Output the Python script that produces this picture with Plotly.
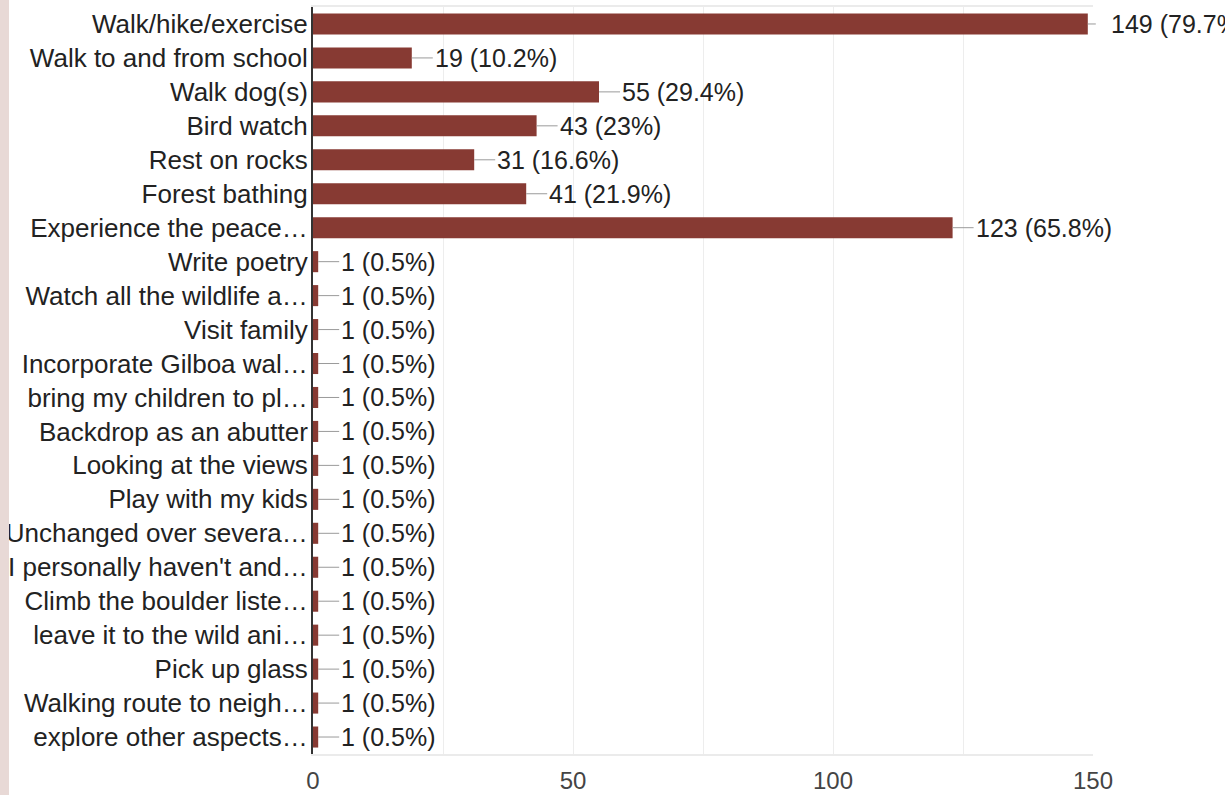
import plotly.graph_objects as go

categories = [
    "Walk/hike/exercise", "Walk to and from school", "Walk dog(s)", "Bird watch",
    "Rest on rocks", "Forest bathing", "Experience the peace…", "Write poetry",
    "Watch all the wildlife a…", "Visit family", "Incorporate Gilboa wal…",
    "bring my children to pl…", "Backdrop as an abutter", "Looking at the views",
    "Play with my kids", "Unchanged over severa…", "I personally haven't and…",
    "Climb the boulder liste…", "leave it to the wild ani…", "Pick up glass",
    "Walking route to neigh…", "explore other aspects…",
]
counts = [149, 19, 55, 43, 31, 41, 123] + [1] * 15
percents = ["79.7%", "10.2%", "29.4%", "23%", "16.6%", "21.9%", "65.8%"] + ["0.5%"] * 15

BAR = "#873a33"
FONT = "Liberation Sans, Arial, sans-serif"

fig = go.Figure(go.Bar(
    x=counts, y=categories, orientation="h",
    marker=dict(color=BAR, line=dict(width=0)),
    hoverinfo="skip",
))

for i, (c, cat, p) in enumerate(zip(counts, categories, percents)):
    fig.add_annotation(
        x=c, y=cat, xref="x", yref="y",
        text=f"{c} ({p})", showarrow=True, arrowhead=0, arrowwidth=1,
        arrowcolor="#9a9a9a", ax=21, ay=0, axref="pixel", ayref="pixel",
        xanchor="left", yanchor="middle",
        startstandoff=13 if i == 0 else 0,
        font=dict(family=FONT, size=25, color="#222222"),
    )

# left page strip
fig.add_shape(type="rect", xref="paper", yref="paper",
              x0=-313 / 780, x1=-304 / 780, y0=-41 / 747, y1=754 / 747,
              fillcolor="#e8d9d6", line=dict(width=0), layer="above")

fig.update_layout(
    width=1225, height=795,
    margin=dict(l=313, r=132, t=7, b=41, pad=0),
    paper_bgcolor="white", plot_bgcolor="white",
    bargap=0.38, showlegend=False,
    font=dict(family=FONT, size=25, color="#222222"),
    xaxis=dict(
        range=[0, 150], dtick=50, tick0=0, automargin=False,
        showgrid=True, gridcolor="#ededed", gridwidth=1,
        minor=dict(dtick=25, showgrid=True, gridcolor="#ededed", gridwidth=1),
        showline=True, mirror=True, linecolor="#ebebeb", linewidth=2,
        zeroline=False, ticks="",
        tickfont=dict(family=FONT, size=24, color="#444444"),
        ticklabelstandoff=4,
    ),
    yaxis=dict(
        autorange="reversed", showgrid=False, zeroline=False, automargin=False,
        showline=True, linecolor="#333333", linewidth=2, ticks="",
        tickfont=dict(family=FONT, size=26, color="#222222"),
        ticklabelstandoff=-2,
    ),
)

fig.write_html("out.html", config={"displayModeBar": False},
               post_script="document.body.style.margin='0';document.body.style.padding='0';")
